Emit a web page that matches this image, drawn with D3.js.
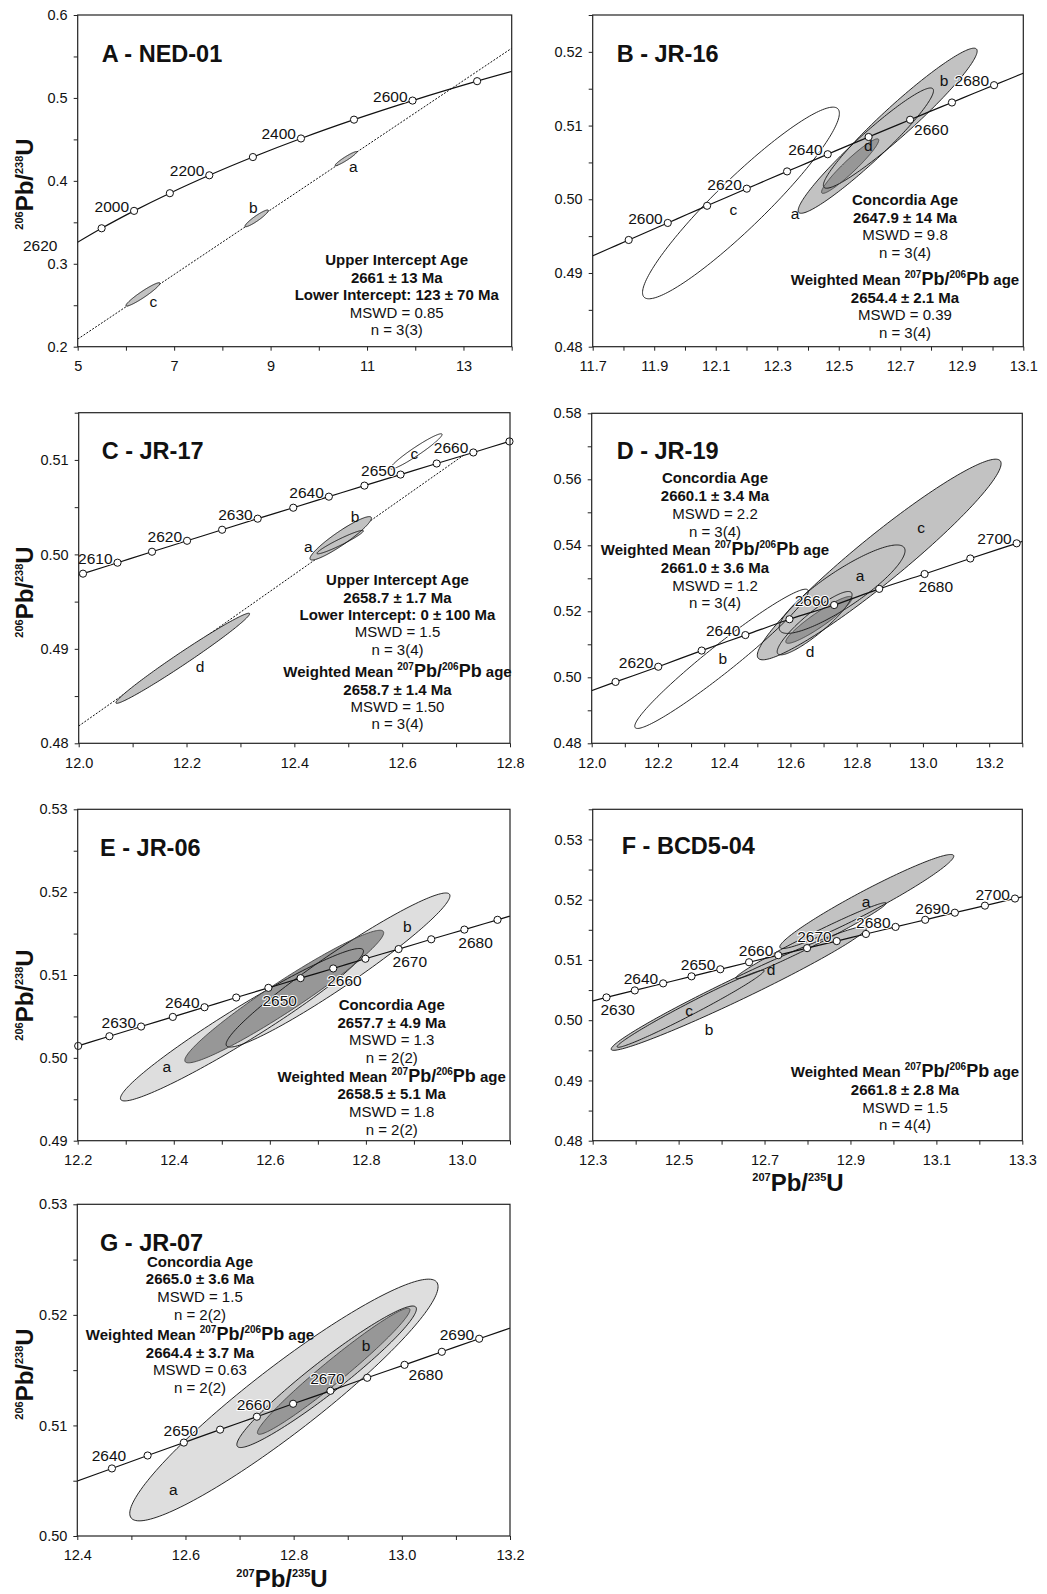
<!DOCTYPE html>
<html>
<head>
<meta charset="utf-8">
<script src="https://cdn.jsdelivr.net/npm/d3@7"></script>
<style>
  body { margin: 0; background: #fff; }
  svg { display: block; }
</style>
</head>
<body>
<svg id="fig" width="1047" height="1594"></svg>
<script>
// ---- concordia points ----
// panel A, 100 Ma steps
const concAgesA = [1800, 1900, 2000, 2100, 2200, 2300, 2400, 2500, 2600, 2700, 2800];
const concXA = [4.887, 5.496, 6.169, 6.911, 7.729, 8.633, 9.630, 10.730, 11.944, 13.283, 14.762];
const concYA = [0.3221, 0.3428, 0.3638, 0.3851, 0.4067, 0.4287, 0.4511, 0.4738, 0.4968, 0.5202, 0.5440];

// panels B, C, E, F, G, 5 Ma steps
const concAges = [2580, 2585, 2590, 2595, 2600, 2605, 2610, 2615, 2620, 2625, 2630, 2635, 2640,
                  2645, 2650, 2655, 2660, 2665, 2670, 2675, 2680, 2685, 2690, 2695, 2700, 2705];
const concX = [11.691, 11.754, 11.817, 11.880, 11.944, 12.008, 12.072, 12.136, 12.201, 12.266, 12.332, 12.398, 12.464,
               12.530, 12.597, 12.664, 12.732, 12.799, 12.868, 12.936, 13.005, 13.074, 13.143, 13.213, 13.283, 13.354];
const concY = [0.49216, 0.49332, 0.49448, 0.49563, 0.49679, 0.49796, 0.49912, 0.50028, 0.50144, 0.50261, 0.50378, 0.50494, 0.50611,
               0.50728, 0.50845, 0.50962, 0.51079, 0.51196, 0.51313, 0.51431, 0.51548, 0.51666, 0.51784, 0.51901, 0.52019, 0.52137];

// panel D is plotted on its own y labels
const concAgesD = [2600, 2610, 2620, 2630, 2640, 2650, 2660, 2670, 2680, 2690, 2700, 2710];
const concXD = [11.944, 12.072, 12.201, 12.332, 12.464, 12.597, 12.732, 12.868, 13.005, 13.143, 13.283, 13.425];
const concYD = [0.4939, 0.4986, 0.5032, 0.5081, 0.5128, 0.5176, 0.5219, 0.5268, 0.5313, 0.5360, 0.5406, 0.5453];

// ---- ages marked on each concordia, and the ones labelled ----
const markA = [1900, 2000, 2100, 2200, 2300, 2400, 2500, 2600, 2700];
const markB = [2590, 2600, 2610, 2620, 2630, 2640, 2650, 2660, 2670, 2680];
const markC = [2605, 2610, 2615, 2620, 2625, 2630, 2635, 2640, 2645, 2650, 2655, 2660, 2665];
const markD = [2610, 2620, 2630, 2640, 2650, 2660, 2670, 2680, 2690, 2700];
const markE = [2620, 2625, 2630, 2635, 2640, 2645, 2650, 2655, 2660, 2665, 2670, 2675, 2680, 2685];
const markF = [2630, 2635, 2640, 2645, 2650, 2655, 2660, 2665, 2670, 2675, 2680, 2685, 2690, 2695, 2700];
const markG = [2640, 2645, 2650, 2655, 2660, 2665, 2670, 2675, 2680, 2685, 2690];

const ageLabA = [[2000, "ul"], [2200, "ul"], [2400, "ul"], [2600, "ul"]];
const ageLabB = [[2600, "ul"], [2620, "ul"], [2640, "ul"], [2660, "lr"], [2680, "ul"]];
const ageLabC = [[2610, "ul"], [2620, "ul"], [2630, "ul"], [2640, "ul"], [2650, "ul"], [2660, "ul"]];
const ageLabD = [[2620, "ul"], [2640, "ul"], [2660, "ul"], [2680, "below"], [2700, "ul"]];
const ageLabE = [[2630, "ul"], [2640, "ul"], [2650, "below"], [2660, "below"], [2670, "below"], [2680, "below"]];
const ageLabF = [[2630, "below"], [2640, "ul"], [2650, "ul"], [2660, "ul"], [2670, "ul"], [2680, "ul"], [2690, "ul"], [2700, "ul"]];
const ageLabG = [[2640, "above"], [2650, "above"], [2660, "above"], [2670, "above"], [2680, "lr"], [2690, "ul"]];

// ---- error ellipses: centre, 2 sigma half widths, correlation ----
const ellA = [
  { id: "a", x: 10.563, y: 0.4268, sx: 0.225, sy: 0.0085, rho: 0.95, shade: "mid" },
  { id: "b", x: 8.712, y: 0.3548, sx: 0.242, sy: 0.0101, rho: 0.93, shade: "mid" },
  { id: "c", x: 6.354, y: 0.2631, sx: 0.353, sy: 0.0141, rho: 0.95, shade: "mid" }
];
const ellB = [
  { id: "c", x: 12.182, y: 0.4995, sx: 0.320, sy: 0.0130, rho: 0.935, shade: "open" },
  { id: "a", x: 12.588, y: 0.5066, sx: 0.220, sy: 0.0085, rho: 0.956, shade: "mid" },
  { id: "b", x: 12.700, y: 0.5110, sx: 0.250, sy: 0.0095, rho: 0.958, shade: "mid" },
  { id: "d", x: 12.537, y: 0.5045, sx: 0.093, sy: 0.0037, rho: 0.95, shade: "dark" }
];
const ellC = [
  { id: "c", x: 12.626, y: 0.5109, sx: 0.048, sy: 0.00187, rho: 0.96, shade: "open" },
  { id: "b", x: 12.486, y: 0.5017, sx: 0.057, sy: 0.0023, rho: 0.93, shade: "mid" },
  { id: "a", x: 12.485, y: 0.5013, sx: 0.043, sy: 0.00124, rho: 0.957, shade: "mid" },
  { id: "d", x: 12.193, y: 0.4890, sx: 0.124, sy: 0.00477, rho: 0.987, shade: "mid" }
];
const ellD = [
  { id: "b", x: 12.392, y: 0.5056, sx: 0.262, sy: 0.0211, rho: 0.968, shade: "open" },
  { id: "c", x: 12.868, y: 0.5357, sx: 0.368, sy: 0.0304, rho: 0.955, shade: "mid" },
  { id: "a", x: 12.756, y: 0.5267, sx: 0.190, sy: 0.0134, rho: 0.87, shade: "mid" },
  { id: "d", x: 12.673, y: 0.5164, sx: 0.113, sy: 0.0096, rho: 0.90, shade: "mid" },
  { id: "", x: 12.686, y: 0.5174, sx: 0.100, sy: 0.0071, rho: 0.93, shade: "dark" }
];
const ellE = [
  { id: "a", x: 12.542, y: 0.5040, sx: 0.253, sy: 0.0092, rho: 0.965, shade: "light" },
  { id: "b", x: 12.742, y: 0.5106, sx: 0.233, sy: 0.0093, rho: 0.963, shade: "light" },
  { id: "", x: 12.630, y: 0.5074, sx: 0.207, sy: 0.0080, rho: 0.962, shade: "dark" }
];
const ellF = [
  { id: "b", x: 12.641, y: 0.5053, sx: 0.298, sy: 0.0103, rho: 0.98, shade: "mid" },
  { id: "a", x: 12.938, y: 0.5197, sx: 0.2025, sy: 0.0078, rho: 0.965, shade: "mid" },
  { id: "c", x: 12.528, y: 0.5019, sx: 0.171, sy: 0.0064, rho: 0.985, shade: "mid" },
  { id: "d", x: 12.808, y: 0.5132, sx: 0.175, sy: 0.0063, rho: 0.985, shade: "mid" }
];
const ellG = [
  { id: "a", x: 12.782, y: 0.5123, sx: 0.285, sy: 0.01093, rho: 0.938, shade: "light" },
  { id: "b", x: 12.861, y: 0.5144, sx: 0.166, sy: 0.0064, rho: 0.958, shade: "mid" },
  { id: "", x: 12.874, y: 0.5149, sx: 0.141, sy: 0.0057, rho: 0.974, shade: "dark" }
];

// discordia: lower and upper intercept on the concordia
const discA = [[0.129, 0.0193], [12.745, 0.5110]];
const discC = [[0, 0], [12.714, 0.5105]];

// ---- tick labels ----
const xTicksA = [5, 7, 9, 11, 13], yTicksA = [0.2, 0.3, 0.4, 0.5, 0.6];
const xTicksB = [11.7, 11.9, 12.1, 12.3, 12.5, 12.7, 12.9, 13.1], yTicksB = [0.48, 0.49, 0.50, 0.51, 0.52];
const xTicksC = [12.0, 12.2, 12.4, 12.6, 12.8], yTicksC = [0.48, 0.49, 0.50, 0.51];
const xTicksD = [12.0, 12.2, 12.4, 12.6, 12.8, 13.0, 13.2], yTicksD = [0.48, 0.50, 0.52, 0.54, 0.56, 0.58];
const xTicksE = [12.2, 12.4, 12.6, 12.8, 13.0], yTicksE = [0.49, 0.50, 0.51, 0.52, 0.53];
const xTicksF = [12.3, 12.5, 12.7, 12.9, 13.1, 13.3], yTicksF = [0.48, 0.49, 0.50, 0.51, 0.52, 0.53];
const xTicksG = [12.4, 12.6, 12.8, 13.0, 13.2], yTicksG = [0.50, 0.51, 0.52, 0.53];

// ---- age statements (1 = bold, "WM" = weighted mean heading) ----
const notesA = [["Upper Intercept Age", 1], ["2661 ± 13 Ma", 1], ["Lower Intercept: 123 ± 70 Ma", 1], ["MSWD = 0.85", 0], ["n = 3(3)", 0]];
const notesB = [["Concordia Age", 1], ["2647.9 ± 14 Ma", 1], ["MSWD = 9.8", 0], ["n = 3(4)", 0],
                ["WM", 1], ["2654.4 ± 2.1 Ma", 1], ["MSWD = 0.39", 0], ["n = 3(4)", 0]];
const notesC = [["Upper Intercept Age", 1], ["2658.7 ± 1.7 Ma", 1], ["Lower Intercept: 0 ± 100 Ma", 1], ["MSWD = 1.5", 0], ["n = 3(4)", 0],
                ["WM", 1], ["2658.7 ± 1.4 Ma", 1], ["MSWD = 1.50", 0], ["n = 3(4)", 0]];
const notesD = [["Concordia Age", 1], ["2660.1 ± 3.4 Ma", 1], ["MSWD = 2.2", 0], ["n = 3(4)", 0],
                ["WM", 1], ["2661.0 ± 3.6 Ma", 1], ["MSWD = 1.2", 0], ["n = 3(4)", 0]];
const notesE = [["Concordia Age", 1], ["2657.7 ± 4.9 Ma", 1], ["MSWD = 1.3", 0], ["n = 2(2)", 0],
                ["WM", 1], ["2658.5 ± 5.1 Ma", 1], ["MSWD = 1.8", 0], ["n = 2(2)", 0]];
const notesF = [["WM", 1], ["2661.8 ± 2.8 Ma", 1], ["MSWD = 1.5", 0], ["n = 4(4)", 0]];
const notesG = [["Concordia Age", 1], ["2665.0 ± 3.6 Ma", 1], ["MSWD = 1.5", 0], ["n = 2(2)", 0],
                ["WM", 1], ["2664.4 ± 3.7 Ma", 1], ["MSWD = 0.63", 0], ["n = 2(2)", 0]];

// ------------------------------------------------------------------
const FONT = "'Liberation Sans', Arial, Helvetica, sans-serif";
const shadeFill = { open: "none", light: "#dedede", mid: "#c2c2c2", dark: "#979797" };
const svg = d3.select("#fig").attr("font-family", FONT);

function zip(ages, xs, ys) {
  return ages.map((a, i) => ({ age: a, x: xs[i], y: ys[i] }));
}
const concordiaA = zip(concAgesA, concXA, concYA);
const concordia = zip(concAges, concX, concY);
const concordiaD = zip(concAgesD, concXD, concYD);

// Pb ratio label with superscripts
function ratio(text, top, bottom, big, small, rise) {
  text.append("tspan").attr("font-size", small).attr("dy", -rise).text(top);
  text.append("tspan").attr("font-size", big).attr("dy", rise).text("Pb/");
  text.append("tspan").attr("font-size", small).attr("dy", -rise).text(bottom);
  text.append("tspan").attr("font-size", big).attr("dy", rise).text("U");
}

function ellipsePoints(e) {
  const k = Math.sqrt(1 - e.rho * e.rho);
  return d3.range(180).map(i => {
    const t = 2 * Math.PI * i / 180;
    return [e.x + e.sx * Math.cos(t), e.y + e.sy * (e.rho * Math.cos(t) + k * Math.sin(t))];
  });
}

const labelPlace = {
  ul: { anchor: "end", dx: -5, dy: 1 },
  lr: { anchor: "start", dx: 4, dy: 15 },
  below: { anchor: "start", dx: -6, dy: 18 },
  above: { anchor: "middle", dx: -3, dy: -7 }
};

function drawPanel(p) {
  const x = d3.scaleLinear().domain(p.xd).range([p.x0, p.x1]);
  const y = d3.scaleLinear().domain(p.yd).range([p.y1, p.y0]);
  const g = svg.append("g");

  const clipId = "clip" + p.id;
  g.append("clipPath").attr("id", clipId)
    .append("rect")
      .attr("x", p.x0).attr("y", p.y0)
      .attr("width", p.x1 - p.x0).attr("height", p.y1 - p.y0);
  const plot = g.append("g").attr("clip-path", `url(#${clipId})`);

  // discordia (dotted)
  if (p.disc) {
    const [[ax, ay], [bx, by]] = p.disc;
    const slope = (by - ay) / (bx - ax);
    const xEnd = p.discToIntercept ? bx : p.xd[1];
    plot.append("line")
      .attr("x1", x(p.xd[0])).attr("y1", y(ay + slope * (p.xd[0] - ax)))
      .attr("x2", x(xEnd)).attr("y2", y(ay + slope * (xEnd - ax)))
      .attr("stroke", "#111").attr("stroke-width", 1)
      .attr("stroke-dasharray", "2,1.5");
  }

  // ellipses: fills first, outlines on top
  const eLine = d3.line().x(d => x(d[0])).y(d => y(d[1])).curve(d3.curveLinearClosed);
  plot.selectAll("path.efill")
    .data(p.ell.filter(e => e.shade !== "open"))
    .enter().append("path")
      .attr("class", "efill")
      .attr("d", e => eLine(ellipsePoints(e)))
      .attr("fill", e => shadeFill[e.shade]);
  plot.selectAll("path.eline")
    .data(p.ell)
    .enter().append("path")
      .attr("class", "eline")
      .attr("d", e => eLine(ellipsePoints(e)))
      .attr("fill", "none")
      .attr("stroke", e => e.shade === "dark" ? "#444" : "#111")
      .attr("stroke-width", 0.9);

  // concordia curve
  const cLine = d3.line().x(d => x(d.x)).y(d => y(d.y)).curve(d3.curveMonotoneX);
  plot.append("path")
    .attr("d", cLine(p.conc))
    .attr("fill", "none").attr("stroke", "#111").attr("stroke-width", 1.2);

  const byAge = new Map(p.conc.map(d => [d.age, d]));
  g.selectAll("circle.mark")
    .data(p.marks.map(a => byAge.get(a)))
    .enter().append("circle")
      .attr("class", "mark")
      .attr("cx", d => x(d.x)).attr("cy", d => y(d.y))
      .attr("r", 3.6)
      .attr("fill", "#fff").attr("stroke", "#111").attr("stroke-width", 1);

  g.selectAll("text.age")
    .data(p.ageLabels)
    .enter().append("text")
      .attr("class", "age")
      .attr("x", d => x(byAge.get(d[0]).x) + labelPlace[d[1]].dx)
      .attr("y", d => y(byAge.get(d[0]).y) + labelPlace[d[1]].dy)
      .attr("text-anchor", d => labelPlace[d[1]].anchor)
      .attr("font-size", 15.5)
      .attr("fill", "#111")
      .attr("stroke", "#fff").attr("stroke-width", 2)
      .attr("paint-order", "stroke")
      .text(d => d[0]);

  // ellipse letters
  g.selectAll("text.elab")
    .data(p.ellLabels)
    .enter().append("text")
      .attr("class", "elab")
      .attr("x", d => d[1]).attr("y", d => d[2])
      .attr("dy", "0.35em")
      .attr("text-anchor", "middle")
      .attr("font-size", 15.5)
      .attr("fill", "#111")
      .text(d => d[0]);

  // axes
  const near = (v, list) => list.find(m => Math.abs(m - v) < 1e-6);
  const xAll = d3.range(Math.round((p.xd[1] - p.xd[0]) / p.xStep) + 1).map(i => p.xd[0] + i * p.xStep);
  const yAll = d3.range(Math.round((p.yd[1] - p.yd[0]) / p.yStep) + 1).map(i => p.yd[0] + i * p.yStep);

  g.append("g")
    .attr("transform", `translate(0,${p.y1})`)
    .call(d3.axisBottom(x).tickValues(xAll).tickSize(4).tickPadding(10)
      .tickFormat(v => { const m = near(v, p.xTicks); return m === undefined ? "" : d3.format(p.xFmt)(m); }))
    .call(s => s.select(".domain").remove())
    .call(s => s.selectAll("line").attr("stroke", "#222"))
    .call(s => s.selectAll("text").attr("font-size", 14.5).attr("font-family", FONT).attr("fill", "#111"));

  g.append("g")
    .attr("transform", `translate(${p.x0},0)`)
    .call(d3.axisLeft(y).tickValues(yAll).tickSize(4).tickPadding(6)
      .tickFormat(v => { const m = near(v, p.yTicks); return m === undefined ? "" : d3.format(p.yFmt)(m); }))
    .call(s => s.select(".domain").remove())
    .call(s => s.selectAll("line").attr("stroke", "#222"))
    .call(s => s.selectAll("text").attr("font-size", 14.5).attr("font-family", FONT).attr("fill", "#111"));

  // frame
  g.append("rect")
    .attr("x", p.x0).attr("y", p.y0)
    .attr("width", p.x1 - p.x0).attr("height", p.y1 - p.y0)
    .attr("fill", "none").attr("stroke", "#222").attr("stroke-width", 1.2);

  // panel title
  g.append("text")
    .attr("x", p.titleX).attr("y", p.titleY)
    .attr("font-size", 23.5).attr("font-weight", "bold").attr("fill", "#111")
    .text(p.title);

  // age statements
  let yy = p.noteY;
  p.notes.forEach((n, i) => {
    if (n[0] === "WM" && i > 0) yy += p.wmGap;
    const t = g.append("text")
      .attr("x", p.noteX).attr("y", yy)
      .attr("text-anchor", "middle")
      .attr("font-size", 15).attr("fill", "#111")
      .attr("font-weight", n[1] ? "bold" : "normal");
    if (n[0] === "WM") {
      t.append("tspan").text("Weighted Mean ");
      t.append("tspan").attr("font-size", 10).attr("dy", -7).text("207");
      t.append("tspan").attr("font-size", 18).attr("dy", 7).text("Pb/");
      t.append("tspan").attr("font-size", 10).attr("dy", -7).text("206");
      t.append("tspan").attr("font-size", 18).attr("dy", 7).text("Pb");
      t.append("tspan").text(" age");
    } else {
      t.text(n[0]);
    }
    yy += p.noteStep;
  });

  // axis titles
  if (p.yTitleY) {
    const t = g.append("text")
      .attr("transform", `translate(33,${p.yTitleY}) rotate(-90)`)
      .attr("text-anchor", "middle").attr("font-weight", "bold").attr("fill", "#111");
    ratio(t, "206", "238", 24, 11, 10);
  }
  if (p.xTitle) {
    const t = g.append("text")
      .attr("x", p.xTitleX).attr("y", p.xTitleY)
      .attr("text-anchor", "middle").attr("font-weight", "bold").attr("fill", "#111");
    ratio(t, "207", "235", 24, 11, 10);
  }
}

drawPanel({
  id: "A", x0: 77.7, x1: 511.7, y0: 15, y1: 346.7, xd: [5, 14], yd: [0.2, 0.6],
  xStep: 1, yStep: 0.05, xTicks: xTicksA, yTicks: yTicksA, xFmt: "d", yFmt: ".1f",
  conc: concordiaA, marks: markA, ageLabels: ageLabA, ell: ellA, disc: discA,
  ellLabels: [["a", 353.3, 166.7], ["b", 253.3, 207.3], ["c", 153.3, 301.7]],
  title: "A - NED-01", titleX: 101.7, titleY: 61.7,
  notes: notesA, noteX: 396.7, noteY: 265, noteStep: 17.5, wmGap: 0, yTitleY: 184
});

drawPanel({
  id: "B", x0: 592.7, x1: 1023.3, y0: 15, y1: 346.7, xd: [11.7, 13.1], yd: [0.48, 0.525],
  xStep: 0.1, yStep: 0.005, xTicks: xTicksB, yTicks: yTicksB, xFmt: ".1f", yFmt: ".2f",
  conc: concordia, marks: markB, ageLabels: ageLabB, ell: ellB,
  ellLabels: [["a", 795, 213.3], ["b", 944, 81], ["c", 733.3, 210], ["d", 868.3, 145.7]],
  title: "B - JR-16", titleX: 616.7, titleY: 61.7,
  notes: notesB, noteX: 905, noteY: 205, noteStep: 17.6, wmGap: 9.6
});

drawPanel({
  id: "C", x0: 78.7, x1: 510, y0: 412.7, y1: 743.3, xd: [12.0, 12.8], yd: [0.48, 0.515],
  xStep: 0.1, yStep: 0.005, xTicks: xTicksC, yTicks: yTicksC, xFmt: ".1f", yFmt: ".2f",
  conc: concordia, marks: markC, ageLabels: ageLabC, ell: ellC, disc: discC, discToIntercept: true,
  ellLabels: [["a", 308.3, 546.7], ["b", 355, 516.7], ["c", 414.3, 453.3], ["d", 200, 666.7]],
  title: "C - JR-17", titleX: 101.7, titleY: 459.3,
  notes: notesC, noteX: 397.5, noteY: 585.3, noteStep: 17.3, wmGap: 5.5, yTitleY: 592
});

drawPanel({
  id: "D", x0: 591.7, x1: 1022.3, y0: 413.3, y1: 743.3, xd: [12.0, 13.3], yd: [0.48, 0.58],
  xStep: 0.1, yStep: 0.01, xTicks: xTicksD, yTicks: yTicksD, xFmt: ".1f", yFmt: ".2f",
  conc: concordiaD, marks: markD, ageLabels: ageLabD, ell: ellD,
  ellLabels: [["a", 860, 576], ["b", 722.7, 658.3], ["c", 921, 527.7], ["d", 810, 651.7]],
  title: "D - JR-19", titleX: 616.7, titleY: 459.3,
  notes: notesD, noteX: 715, noteY: 483.3, noteStep: 17.8, wmGap: 0.5
});

drawPanel({
  id: "E", x0: 77.7, x1: 510, y0: 809.3, y1: 1140.7, xd: [12.2, 13.1], yd: [0.49, 0.53],
  xStep: 0.1, yStep: 0.005, xTicks: xTicksE, yTicks: yTicksE, xFmt: ".1f", yFmt: ".2f",
  conc: concordia, marks: markE, ageLabels: ageLabE, ell: ellE,
  ellLabels: [["a", 166.7, 1066.7], ["b", 407.3, 926.7]],
  title: "E - JR-06", titleX: 100, titleY: 856,
  notes: notesE, noteX: 391.7, noteY: 1010, noteStep: 17.7, wmGap: 0.9, yTitleY: 995
});

drawPanel({
  id: "F", x0: 592.7, x1: 1022.3, y0: 809.3, y1: 1140.7, xd: [12.3, 13.3], yd: [0.48, 0.535],
  xStep: 0.1, yStep: 0.005, xTicks: xTicksF, yTicks: yTicksF, xFmt: ".1f", yFmt: ".2f",
  conc: concordia, marks: markF, ageLabels: ageLabF, ell: ellF,
  ellLabels: [["a", 866, 902], ["b", 709, 1029.3], ["c", 689, 1011], ["d", 771, 970]],
  title: "F - BCD5-04", titleX: 621.7, titleY: 854,
  notes: notesF, noteX: 905, noteY: 1077.3, noteStep: 17.6, wmGap: 0,
  xTitle: true, xTitleX: 798, xTitleY: 1191
});

drawPanel({
  id: "G", x0: 77.3, x1: 510, y0: 1204.3, y1: 1536, xd: [12.4, 13.2], yd: [0.50, 0.53],
  xStep: 0.1, yStep: 0.005, xTicks: xTicksG, yTicks: yTicksG, xFmt: ".1f", yFmt: ".2f",
  conc: concordia, marks: markG, ageLabels: ageLabG, ell: ellG,
  ellLabels: [["a", 173.3, 1490], ["b", 366, 1346]],
  title: "G - JR-07", titleX: 100, titleY: 1250.7,
  notes: notesG, noteX: 200, noteY: 1266.7, noteStep: 17.6, wmGap: 2.9, yTitleY: 1374,
  xTitle: true, xTitleX: 282, xTitleY: 1587
});

// stray age label left of panel A
svg.append("text")
  .attr("x", 23).attr("y", 251)
  .attr("font-size", 15.5).attr("fill", "#111")
  .text("2620");
</script>
</body>
</html>
